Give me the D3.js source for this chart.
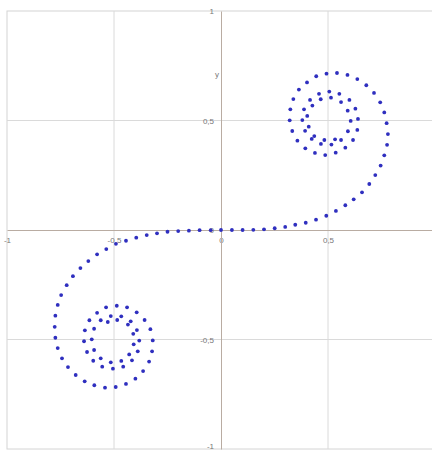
<!DOCTYPE html>
<html>
<head>
<meta charset="utf-8">
<script src="https://cdn.jsdelivr.net/npm/d3@7/dist/d3.min.js"></script>
<style>
  html, body { margin: 0; padding: 0; background: #fff; }
  svg { display: block; }
</style>
</head>
<body>
<div id="chart"></div>
<script>
// points, upper branch from the origin into the top-right curl
const upperX = [0, 0.051, 0.101, 0.151, 0.201, 0.251, 0.300, 0.347, 0.396, 0.444,
  0.492, 0.537, 0.581, 0.620, 0.659, 0.693, 0.721, 0.746, 0.763, 0.776,
  0.780, 0.774, 0.763, 0.744, 0.715, 0.679, 0.637, 0.591, 0.542, 0.493,
  0.445, 0.402, 0.364, 0.338, 0.324, 0.321, 0.333, 0.357, 0.394, 0.439,
  0.487, 0.536, 0.581, 0.617, 0.637, 0.640, 0.628, 0.600, 0.553, 0.506,
  0.458, 0.416, 0.388, 0.380, 0.393, 0.424, 0.467, 0.516, 0.561, 0.593,
  0.606, 0.592, 0.561, 0.514, 0.466, 0.427, 0.403, 0.410, 0.436, 0.483, 0.533];
const upperY = [0, 0.000, 0.000, 0.001, 0.003, 0.008, 0.014, 0.024, 0.033, 0.047,
  0.065, 0.087, 0.113, 0.140, 0.172, 0.210, 0.251, 0.294, 0.341, 0.389,
  0.438, 0.488, 0.537, 0.583, 0.626, 0.661, 0.689, 0.708, 0.717, 0.714,
  0.702, 0.674, 0.641, 0.598, 0.551, 0.501, 0.452, 0.408, 0.373, 0.352,
  0.342, 0.353, 0.376, 0.411, 0.457, 0.507, 0.554, 0.594, 0.622, 0.632,
  0.622, 0.594, 0.551, 0.502, 0.453, 0.416, 0.393, 0.390, 0.411, 0.451,
  0.498, 0.545, 0.584, 0.604, 0.597, 0.568, 0.521, 0.472, 0.429, 0.411, 0.414];

// lower branch from the origin into the bottom-left curl
const lowerX = [-0.048, -0.100, -0.150, -0.200, -0.250, -0.299, -0.347, -0.396, -0.444,
  -0.491, -0.536, -0.579, -0.620, -0.657, -0.692, -0.721, -0.747, -0.763, -0.774,
  -0.777, -0.774, -0.763, -0.743, -0.715, -0.679, -0.637, -0.592, -0.542, -0.492,
  -0.444, -0.400, -0.364, -0.336, -0.322, -0.319, -0.330, -0.357, -0.394, -0.439,
  -0.487, -0.537, -0.579, -0.615, -0.636, -0.640, -0.626, -0.597, -0.555, -0.505,
  -0.457, -0.416, -0.389, -0.382, -0.393, -0.422, -0.466, -0.515, -0.562, -0.593,
  -0.604, -0.593, -0.562, -0.515, -0.466, -0.429, -0.408, -0.410, -0.435, -0.485, -0.529];
const lowerY = [-0.001, -0.001, -0.003, -0.005, -0.008, -0.015, -0.023, -0.035, -0.049,
  -0.063, -0.087, -0.111, -0.142, -0.174, -0.211, -0.252, -0.297, -0.342, -0.391,
  -0.442, -0.492, -0.539, -0.586, -0.626, -0.662, -0.691, -0.709, -0.720, -0.717,
  -0.703, -0.679, -0.644, -0.601, -0.554, -0.504, -0.453, -0.411, -0.376, -0.353,
  -0.346, -0.353, -0.378, -0.412, -0.458, -0.508, -0.557, -0.597, -0.624, -0.633,
  -0.624, -0.595, -0.554, -0.505, -0.457, -0.417, -0.394, -0.393, -0.412, -0.451,
  -0.499, -0.548, -0.586, -0.604, -0.598, -0.568, -0.522, -0.474, -0.432, -0.411, -0.420];

const xTicks = [-1, -0.5, 0, 0.5];
const xTickLabels = ['-1', '-0,5', '0', '0,5'];
const yTicks = [1, 0.5, 0, -0.5, -1];
const yTickLabels = ['1', '0,5', '0', '-0,5', '-1'];
const gridX = [-0.5, 0.5];
const gridY = [0.5, -0.5];
const yTitle = 'y';

const W = 432, H = 451;
const FONT = 'Liberation Sans, Arial, sans-serif';

const points = upperX.map((x, i) => ({ x, y: upperY[i] }))
  .concat(lowerX.map((x, i) => ({ x, y: lowerY[i] })));

const svg = d3.select('#chart')
  .append('svg')
  .attr('width', W)
  .attr('height', H);

const xScale = d3.scaleLinear().domain([-1, 1]).range([7, 435]);
const yScale = d3.scaleLinear().domain([-1, 1]).range([449, 11]);

// frame + grid
svg.append('rect')
  .attr('x', xScale(-1)).attr('y', yScale(1))
  .attr('width', xScale(1) - xScale(-1))
  .attr('height', yScale(-1) - yScale(1))
  .attr('fill', 'none')
  .attr('stroke', '#d4d4d4')
  .attr('stroke-width', 1);

svg.selectAll('.gx')
  .data(gridX)
  .enter()
  .append('line')
  .attr('x1', d => xScale(d)).attr('x2', d => xScale(d))
  .attr('y1', yScale(1)).attr('y2', yScale(-1))
  .attr('stroke', '#dadada');

svg.selectAll('.gy')
  .data(gridY)
  .enter()
  .append('line')
  .attr('y1', d => yScale(d)).attr('y2', d => yScale(d))
  .attr('x1', xScale(-1)).attr('x2', xScale(1))
  .attr('stroke', '#dadada');

// axes through the origin
const xAxis = d3.axisBottom(xScale).tickValues(xTicks).tickSize(0)
  .tickFormat((d, i) => xTickLabels[i]);
const yAxis = d3.axisLeft(yScale).tickValues(yTicks).tickSize(0)
  .tickFormat((d, i) => yTickLabels[i]);

const gx = svg.append('g')
  .attr('transform', `translate(0,${yScale(0)})`)
  .call(xAxis);
gx.select('.domain').attr('stroke', '#b9aca2');
gx.selectAll('text')
  .attr('dy', 0).attr('y', 13)
  .attr('fill', '#777')
  .style('font-family', FONT)
  .style('font-size', '8px');

const gy = svg.append('g')
  .attr('transform', `translate(${xScale(0)},0)`)
  .call(yAxis);
gy.select('.domain').attr('stroke', '#b9aca2');
gy.selectAll('text')
  .attr('x', -7)
  .attr('dy', d => d === -1 ? '-0.1em' : '0.32em')
  .attr('fill', '#777')
  .style('font-family', FONT)
  .style('font-size', '8px');

svg.append('text')
  .attr('x', xScale(0) - 2)
  .attr('y', yScale(0.7))
  .attr('text-anchor', 'end')
  .attr('fill', '#777')
  .style('font-family', FONT)
  .style('font-size', '8px')
  .text(yTitle);

svg.selectAll('.pt')
  .data(points)
  .enter()
  .append('circle')
  .attr('class', 'pt')
  .attr('cx', d => xScale(d.x))
  .attr('cy', d => yScale(d.y))
  .attr('r', 1.9)
  .attr('fill', '#2f2fbf');
</script>
</body>
</html>
